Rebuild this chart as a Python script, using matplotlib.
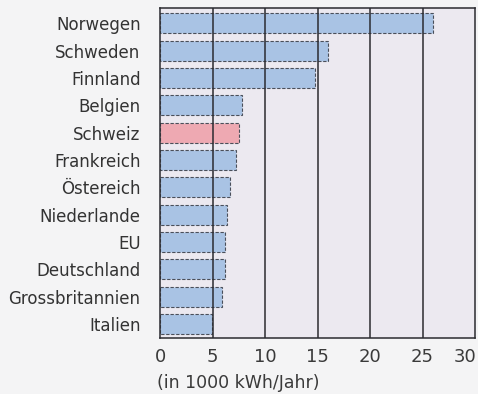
import matplotlib.pyplot as plt
from matplotlib.transforms import ScaledTranslation

# Stromverbrauch pro Kopf
laender = ["Norwegen", "Schweden", "Finnland", "Belgien", "Schweiz", "Frankreich",
           "Östereich", "Niederlande", "EU", "Deutschland", "Grossbritannien", "Italien"]
verbrauch = [26.0, 16.0, 14.8, 7.8, 7.5, 7.2, 6.7, 6.35, 6.2, 6.2, 5.9, 4.95]
ticks = [0, 5, 10, 15, 20, 25, 30]

blau = "#a9c3e4"
rot = "#eea9b2"
farben = [rot if l == "Schweiz" else blau for l in laender]

plt.rcParams["font.family"] = ["DejaVu Sans"]

fig = plt.figure(figsize=(4.78, 3.94), dpi=100, facecolor="#f4f4f5")
ax = fig.add_axes([160 / 478, 1 - 338 / 394, 315 / 478, 330 / 394])
ax.set_facecolor("#ece9f0")

pos = range(len(laender))
ax.barh(pos, verbrauch, height=0.73, color=farben, edgecolor="#4a4f5a",
        linewidth=0.8, linestyle=(0, (3, 1.5)), zorder=2)

for t in ticks[1:-1]:
    ax.axvline(t, color="#2b2b30", linewidth=1.1, zorder=3)

ax.set_xlim(0, 30)
ax.set_ylim(11.51, -0.56)
ax.set_xticks(ticks)
ax.set_yticks(list(pos))
ax.set_yticklabels(laender, fontsize=12, color="#333333")
ax.tick_params(axis="y", length=0, pad=14)
ax.tick_params(axis="x", length=0, pad=7, labelsize=13, labelcolor="#3a3a3a")

# letzte Zahl etwas nach links, damit sie im Bild bleibt
last = ax.get_xticklabels()[-1]
last.set_transform(last.get_transform() + ScaledTranslation(-10 / 100, 0, fig.dpi_scale_trans))

for s in ax.spines.values():
    s.set_color("#2b2b30")
    s.set_linewidth(1.1)

fig.text(157 / 478, 1 - 383 / 394, "(in 1000 kWh/Jahr)", fontsize=12.5,
         color="#3a3a3a", va="center", ha="left")

fig.savefig("out.png", dpi=100, facecolor=fig.get_facecolor())
